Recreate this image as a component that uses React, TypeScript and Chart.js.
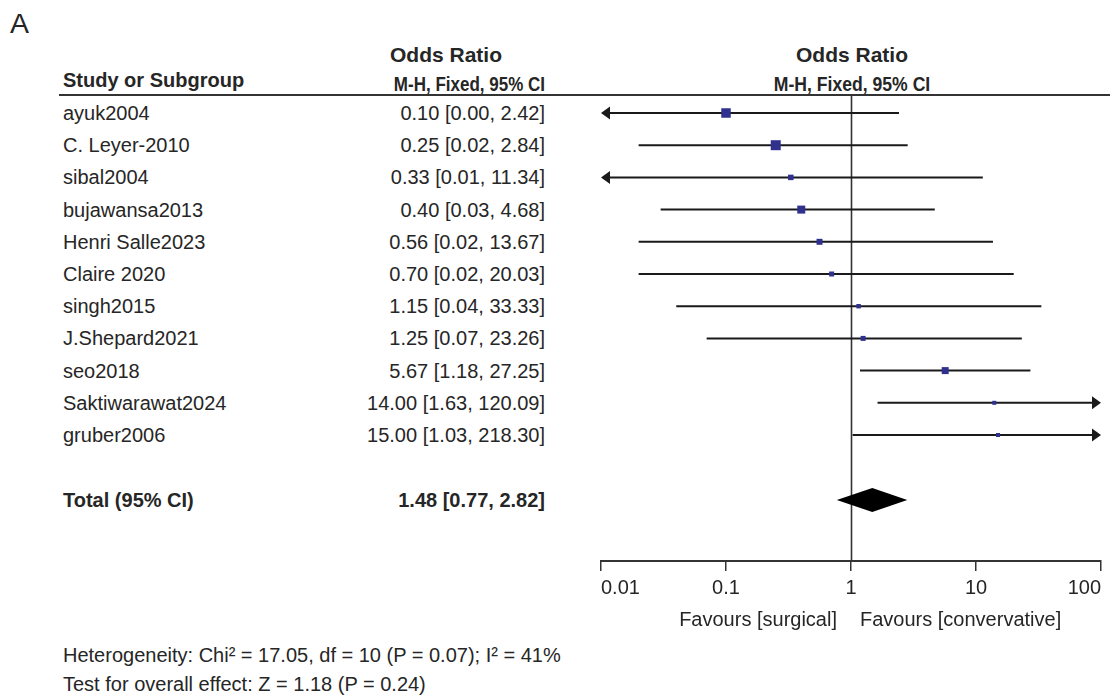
import React, { useEffect, useRef } from "react";
import { Chart, registerables } from "chart.js";

Chart.register(...registerables);

// ---------- data ----------
const studies = [
  "ayuk2004",
  "C. Leyer-2010",
  "sibal2004",
  "bujawansa2013",
  "Henri Salle2023",
  "Claire 2020",
  "singh2015",
  "J.Shepard2021",
  "seo2018",
  "Saktiwarawat2024",
  "gruber2006",
];
const oddsRatio = [0.1, 0.25, 0.33, 0.4, 0.56, 0.7, 1.15, 1.25, 5.67, 14.0, 15.0];
const ciLower = [0.0, 0.02, 0.01, 0.03, 0.02, 0.02, 0.04, 0.07, 1.18, 1.63, 1.03];
const ciUpper = [2.42, 2.84, 11.34, 4.68, 13.67, 20.03, 33.33, 23.26, 27.25, 120.09, 218.3];
// study weights (%) estimated from the square areas
const weights = [19.1, 21.2, 6.4, 13.6, 7.6, 5.3, 4.2, 5.3, 10.4, 3.4, 3.4];

const totalLabel = "Total (95% CI)";
const totalOR = [1.48];
const totalLower = [0.77];
const totalUpper = [2.82];

const xTicks = [0.01, 0.1, 1, 10, 100];
const xTickLabels = ["0.01", "0.1", "1", "10", "100"];

const heterogeneityText = "Heterogeneity: Chi² = 17.05, df = 10 (P = 0.07); I² = 41%";
const overallEffectText = "Test for overall effect: Z = 1.18 (P = 0.24)";
const favoursLeft = "Favours [surgical]";
const favoursRight = "Favours [convervative]";

// ---------- layout ----------
const FONT = '"Liberation Sans", Arial, Helvetica, sans-serif';
const FS = 20;
const TEXT_COLOR = "#262626";
const SQUARE_COLOR = "#30308f";
const X_MIN = 0.01;
const X_MAX = 100;
const TEXT_LEFT = 63;
const VALUE_RIGHT = 545;
const ROW0 = 113;
const ROW_H = 32.2;
const TOTAL_Y = 500;
const AREA_TOP = 95;
const AREA_BOTTOM = 561;
const AREA_LEFT = 601;
const AREA_RIGHT = 1101;
const CANVAS_LEFT = 560;
const CANVAS_TOP = 85;
const CANVAS_W = 550;
const AXIS_H = 60;
const CANVAS_H = AREA_BOTTOM - CANVAS_TOP + AXIS_H;
const TOTAL_ROW = (TOTAL_Y - ROW0) / ROW_H;
const ARROW_L = 9;
const ARROW_HH = 6.5;
const DIAMOND_HH = 12;

const fmt = (v: number) => v.toFixed(2);
const rowY = (i: number) => ROW0 + ROW_H * i;
const squareRadius = (w: number) => (2.17 * Math.sqrt(w)) / (2 * Math.SQRT1_2);

const forestPlugin = {
  id: "forestMarks",
  beforeDatasetsDraw(chart: any) {
    const { ctx, chartArea } = chart;
    const x = chart.scales.x;
    const y = chart.scales.y;
    ctx.save();
    // line of no effect
    const x1 = Math.round(x.getPixelForValue(1)) + 0.5;
    ctx.strokeStyle = "#333";
    ctx.lineWidth = 1.6;
    ctx.beginPath();
    ctx.moveTo(x1, chartArea.top);
    ctx.lineTo(x1, chartArea.bottom);
    ctx.stroke();

    // confidence intervals
    ctx.strokeStyle = "#1a1a1a";
    ctx.fillStyle = "#1a1a1a";
    studies.forEach((_, i) => {
      const yy = y.getPixelForValue(i);
      const loClip = ciLower[i] <= X_MIN;
      const hiClip = ciUpper[i] >= X_MAX;
      const xl = x.getPixelForValue(loClip ? X_MIN : ciLower[i]);
      const xr = x.getPixelForValue(hiClip ? X_MAX : ciUpper[i]);
      ctx.lineWidth = 2;
      ctx.beginPath();
      ctx.moveTo(loClip ? xl + ARROW_L - 1 : xl, yy);
      ctx.lineTo(hiClip ? xr - ARROW_L + 1 : xr, yy);
      ctx.stroke();
      if (loClip) {
        ctx.beginPath();
        ctx.moveTo(xl, yy);
        ctx.lineTo(xl + ARROW_L, yy - ARROW_HH);
        ctx.lineTo(xl + ARROW_L, yy + ARROW_HH);
        ctx.closePath();
        ctx.fill();
      }
      if (hiClip) {
        ctx.beginPath();
        ctx.moveTo(xr, yy);
        ctx.lineTo(xr - ARROW_L, yy - ARROW_HH);
        ctx.lineTo(xr - ARROW_L, yy + ARROW_HH);
        ctx.closePath();
        ctx.fill();
      }
    });

    // pooled diamond
    const dy = y.getPixelForValue(TOTAL_ROW);
    const dl = x.getPixelForValue(totalLower[0]);
    const dc = x.getPixelForValue(totalOR[0]);
    const dr = x.getPixelForValue(totalUpper[0]);
    ctx.fillStyle = "#000";
    ctx.beginPath();
    ctx.moveTo(dl, dy);
    ctx.lineTo(dc, dy - DIAMOND_HH);
    ctx.lineTo(dr, dy);
    ctx.lineTo(dc, dy + DIAMOND_HH);
    ctx.closePath();
    ctx.fill();
    ctx.restore();
  },
};

function ForestChart() {
  const ref = useRef<HTMLCanvasElement | null>(null);
  useEffect(() => {
    if (!ref.current) return;
    const chart = new Chart(ref.current, {
      type: "scatter",
      data: {
        datasets: [
          {
            data: studies.map((_, i) => ({ x: oddsRatio[i], y: i })),
            pointStyle: "rect",
            pointRadius: weights.map(squareRadius),
            pointHoverRadius: weights.map(squareRadius),
            backgroundColor: SQUARE_COLOR,
            borderWidth: 0,
          },
        ],
      },
      options: {
        animation: false,
        responsive: false,
        maintainAspectRatio: false,
        events: [],
        layout: {
          padding: {
            left: AREA_LEFT - CANVAS_LEFT,
            right: CANVAS_LEFT + CANVAS_W - AREA_RIGHT,
            top: AREA_TOP - CANVAS_TOP,
            bottom: 0,
          },
        },
        plugins: { legend: { display: false }, tooltip: { enabled: false } },
        scales: {
          x: {
            type: "logarithmic",
            min: X_MIN,
            max: X_MAX,
            afterBuildTicks: (scale: any) => {
              scale.ticks = xTicks.map((v) => ({ value: v }));
            },
            afterFit: (scale: any) => {
              scale.height = AXIS_H;
            },
            ticks: {
              autoSkip: false,
              maxRotation: 0,
              align: "inner",
              padding: 5,
              color: TEXT_COLOR,
              font: { family: FONT, size: FS },
              callback: (_v: any, index: number) => xTickLabels[index],
            },
            grid: {
              display: true,
              drawOnChartArea: false,
              drawTicks: true,
              tickLength: 10,
              color: "#333",
              lineWidth: 1.5,
            },
            border: { display: true, color: "#333", width: 2 },
          },
          y: {
            type: "linear",
            display: false,
            reverse: true,
            min: (AREA_TOP - ROW0) / ROW_H,
            max: (AREA_BOTTOM - ROW0) / ROW_H,
          },
        },
      },
      plugins: [forestPlugin],
    } as any);
    return () => chart.destroy();
  }, []);
  return (
    <canvas
      ref={ref}
      width={CANVAS_W}
      height={CANVAS_H}
      style={{ position: "absolute", left: CANVAS_LEFT, top: CANVAS_TOP, width: CANVAS_W, height: CANVAS_H }}
    />
  );
}

const T = (props: {
  x: number;
  y: number;
  children: React.ReactNode;
  align?: "left" | "right" | "center";
  bold?: boolean;
  size?: number;
  squeeze?: number;
}) => {
  const { x, y, align = "left", bold = false, size = FS, squeeze = 1 } = props;
  const tx = align === "left" ? "0" : align === "right" ? "-100%" : "-50%";
  const origin = align === "left" ? "left center" : align === "right" ? "right center" : "center center";
  return (
    <div
      style={{
        position: "absolute",
        left: x,
        top: y,
        transform: `translate(${tx}, -50%)`,
        whiteSpace: "nowrap",
        fontFamily: FONT,
        fontSize: size,
        lineHeight: `${size}px`,
        fontWeight: bold ? 700 : 400,
        color: TEXT_COLOR,
      }}
    >
      <div style={{ transform: `scaleX(${squeeze})`, transformOrigin: origin }}>{props.children}</div>
    </div>
  );
};

export default function App() {
  return (
    <div
      style={{
        position: "absolute",
        left: 0,
        top: 0,
        width: 1110,
        height: 697,
        background: "#fff",
        overflow: "hidden",
      }}
    >
      <T x={10} y={23} size={28.5}>A</T>
      <T x={446} y={54} align="center" bold size={21}>Odds Ratio</T>
      <T x={TEXT_LEFT} y={80} bold>Study or Subgroup</T>
      <T x={VALUE_RIGHT} y={84} align="right" bold squeeze={0.85}>M-H, Fixed, 95% CI</T>
      <T x={852} y={54} align="center" bold size={21}>Odds Ratio</T>
      <T x={852} y={84} align="center" bold squeeze={0.88}>M-H, Fixed, 95% CI</T>
      <div
        style={{ position: "absolute", left: 59, top: AREA_TOP - 1, width: 1110 - 59, height: 2, background: "#333" }}
      />
      {studies.map((s, i) => (
        <React.Fragment key={s}>
          <T x={TEXT_LEFT} y={rowY(i)}>{s}</T>
          <T x={VALUE_RIGHT} y={rowY(i)} align="right">
            {`${fmt(oddsRatio[i])} [${fmt(ciLower[i])}, ${fmt(ciUpper[i])}]`}
          </T>
        </React.Fragment>
      ))}
      <T x={TEXT_LEFT} y={TOTAL_Y} bold>{totalLabel}</T>
      <T x={VALUE_RIGHT} y={TOTAL_Y} align="right" bold>
        {`${fmt(totalOR[0])} [${fmt(totalLower[0])}, ${fmt(totalUpper[0])}]`}
      </T>
      <ForestChart />
      <T x={837} y={619} align="right">{favoursLeft}</T>
      <T x={860} y={619}>{favoursRight}</T>
      <T x={TEXT_LEFT} y={655}>{heterogeneityText}</T>
      <T x={TEXT_LEFT} y={684}>{overallEffectText}</T>
    </div>
  );
}
